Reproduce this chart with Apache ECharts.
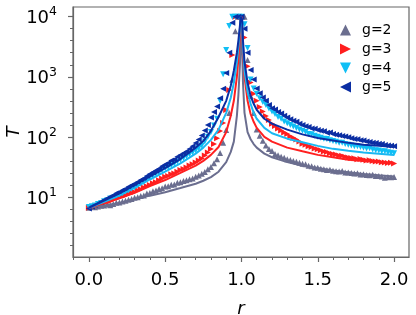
<!DOCTYPE html>
<html><head><meta charset="utf-8">
<script src="https://cdn.jsdelivr.net/npm/echarts@6/dist/echarts.min.js"></script>
<style>html,body{margin:0;padding:0;background:#fff}#c{width:416px;height:315px}</style>
</head><body><div id="c"></div>
<script>
// sampled r positions of the simulation points
const rPts = [0,0.02,0.04,0.06,0.08,0.1,0.12,0.14,0.16,0.18,0.2,0.22,0.24,0.26,0.28,0.3,0.32,0.34,0.36,0.38,
0.4,0.42,0.44,0.46,0.48,0.5,0.52,0.54,0.56,0.58,0.6,0.62,0.64,0.66,0.68,0.7,0.72,0.74,0.76,0.78,
0.8,0.82,0.84,0.86,0.88,0.9,0.92,0.94,0.96,0.98,1.0,1.02,1.04,1.06,1.08,1.1,1.12,1.14,1.16,1.18,
1.2,1.22,1.24,1.26,1.28,1.3,1.32,1.34,1.36,1.38,1.4,1.42,1.44,1.46,1.48,1.5,1.52,1.54,1.56,1.58,
1.6,1.62,1.64,1.66,1.68,1.7,1.72,1.74,1.76,1.78,1.8,1.82,1.84,1.86,1.88,1.9,1.92,1.94,1.96,1.98,2.0];

const T_g2 = [6.6,6.8,6.7,6.9,7.1, 7.2,7.5,7.3,7.6,8.0, 8.1,8.4,8.6,9.0,9.2, 9.7,9.9,10.4,10.6,11.4,
11.6,12.4,12.8,13.6,14.0, 14.9,15.0,16.0,16.1,17.2, 17.6,18.4,19.0,19.7,20.3, 21.6,22.8,24.2,26.0,29.0,
31.5,36.5,42.5,54,80, 130,250,890,5700,10000, 10000,10000,1900,480,250, 132,104,86,72,63,
58,52,49.5,46.5,45, 42.5,41,39.5,38.5,37, 35.5,35,33,32.5,31, 30.5,29.5,29,28,28.2,
27.3,26.8,26.5,26.9,25.6, 25.5,25,24.6,24.8,23.7, 23.8,23.2,22.9,23.3,22.4, 22.2,21.9,20.8,21.5,21.2, 21.5];

const T_g3 = [6.6,6.7,7.0,7.2,7.5, 7.9,8.3,8.5,9.0,9.4, 9.8,10.3,10.6,11.3,11.7, 12.1,12.9,13.4,14.3,15.0,
15.8,16.9,17.6,19.0,20.2, 21.6,22.4,23.8,24.6,26.2, 28.0,29.3,31.0,33.4,35.0, 37.5,40.5,43.8,49,55,
63,76,95,125,170, 280,600,2300,10000,10000, 10000,4500,1500,800,520, 400,315,265,222,190,
165,152,138,128,118, 112,102,97,90,84, 77,74,70,68,64, 62,60,57,56,53.5,
52,51,49,48.5,46.5, 45.5,44.5,44,42.5,42.8, 41.5,40.5,40.8,39.5,38.8, 38.9,37.8,37.5,36.8,37.2, 36];

const T_g4 = [6.8,7.0,7.2,7.6,7.9, 8.5,8.8,9.4,9.7,10.4, 11.0,11.5,12.4,12.9,13.8, 14.5,15.6,16.8,17.7,19.5,
21.3,22.6,24.2,25.5,28.0, 30.0,31.5,33.8,35.5,39.0, 41.5,44.5,47.5,51.5,55, 59,65,72,84,100,
120,155,200,400,1100, 2800,7000,10000,10000,10000, 10000,7500,3000,900,640, 520,440,380,340,295,
265,240,215,200,180, 168,158,148,140,132, 126,120,112,110,104, 100,97,93,92,88,
85,83,80,79.5,76, 74,72,70,70,67.5, 66,64,64.5,61.5,60, 59,57.5,57.5,55.5,54.5, 53.5];

const T_g5 = [6.4,6.9,7.3,7.7,8.3, 8.9,9.4,10.1,10.6,11.5, 12.0,12.9,13.6,14.8,15.6, 16.6,17.7,19.2,20.2,22.4,
24.0,25.8,27.6,29.5,32.4, 34.7,36.8,40.5,42.0,46.5, 50,53.5,57,63,70, 79,90,105,128,158,
210,260,320,440,630, 1150,2500,7900,10000,10000, 10000,6300,2500,1300,900, 640,530,450,400,340,
300,285,260,245,225, 210,196,185,178,165, 158,150,146,138,136, 130,126,124,117,118,
112,108,106,103,101, 98,95,92,91,88, 87,84,82,80,79, 77,76,73,72,71, 70];

// theory curves
const rFit = [0,0.1,0.2,0.3,0.4,0.5,0.6,0.7,0.75,0.8,0.85,0.9,0.93,0.95,0.97,0.98,0.99,0.995,1.0,
1.005,1.01,1.02,1.04,1.06,1.08,1.1,1.15,1.2,1.3,1.4,1.5,1.6,1.7,1.8,1.9,2.0];
const fit_g2 = [6.6,7.2,7.9,9.1,10.5,12.0,14.1,16.6,18.6,21.4,26.3,38.0,56.2,83.2,224,501,1585,3981,10000,
2512,794,251,120,91.2,75.9,66.1,52.5,45.7,38.0,33.1,30.2,27.5,25.7,24.0,22.9,21.9];
const fit_g3 = [6.6,7.9,9.5,11.7,15.1,19.1,25.1,33.1,39.8,50.1,67.6,120,224,398,1000,1995,5012,8913,10000,
6310,2512,1000,398,240,178,141,100,83.2,66.1,57.5,50.1,45.7,41.7,39.8,38.0,36.3];
const fit_g4 = [6.6,8.3,10.5,14.1,19.5,26.3,36.3,52.5,66.1,89.1,132,251,447,794,1778,3162,6310,10000,10000,
7079,3162,1259,562,355,251,200,141,115,93.3,81.3,70.8,63.1,58.9,55.0,52.5,50.1];
const fit_g5 = [6.6,8.7,11.5,15.8,21.9,30.2,42.7,66.1,85.1,126,214,398,708,1259,2512,3981,7079,10000,10000,
8913,3981,1778,794,479,355,282,200,166,132,110,95.5,87.1,79.4,74.1,70.8,67.6];

const seriesNames = ['g=2','g=3','g=4','g=5'];
const colors = ['#6b6e8f','#ff1e1e','#10bff5','#0b2ea3'];
const lineColors = ['#6b6e8f','#ff2020','#1ab8f2','#0b2ea3'];
const symbols = ['triangle','path://M0,0L10,5L0,10Z','path://M0,0L10,0L5,10Z','path://M10,0L0,5L10,10Z'];
const xTicks = [0,0.5,1,1.5,2];
const yTicks = [10,100,1000,10000];
const yDecades = [1,2,3,4];   // exponents of the labelled decades (tick helper axis)

const ptsData = [T_g2,T_g3,T_g4,T_g5];
const fitData = [fit_g2,fit_g3,fit_g4,fit_g5];
const FONT = 'DejaVu Sans';
const axisGray = '#666';
const yMin = 1, yMax = 14500;

const series = [];
ptsData.forEach((arr, k) => {
  series.push({
    type:'scatter', name: seriesNames[k], symbol: symbols[k], symbolSize: 6, yAxisIndex:0,
    data: rPts.map((r,i)=>[r,arr[i]]),
    itemStyle:{color: colors[k], opacity:1}, z: 2, silent:true
  });
});
fitData.forEach((arr, k) => {
  series.push({
    type:'line', yAxisIndex:0, data: rFit.map((r,i)=>[r,arr[i]]), symbol:'none', showSymbol:false,
    lineStyle:{width:2, color: lineColors[k]}, z: 3, silent:true
  });
});

const chart = echarts.init(document.getElementById('c'), null, {renderer:'canvas'});
chart.setOption({
  animation:false,
  backgroundColor:'#fff',
  grid:{left:73, top:7, width:336, height:250, show:true, borderColor:axisGray, borderWidth:1.2,
        backgroundColor:'transparent', containLabel:false, outerBoundsMode:'none'},
  legend:{
    data: seriesNames.map((n,k)=>({name:n, icon: symbols[k]})),
    orient:'vertical', left:335, top:18, itemWidth:11, itemHeight:11, itemGap:5,
    textStyle:{fontFamily:FONT, fontSize:14, color:'#000', padding:[0,0,0,6]}
  },
  xAxis:{
    type:'value', min:-0.104, max:2.098, minInterval:0.5, maxInterval:0.5,
    axisLine:{show:true, onZero:false, lineStyle:{color:axisGray, width:1.2}},
    axisTick:{show:true, length:5, customValues:xTicks, lineStyle:{color:axisGray, width:1.2}},
    minorTick:{show:true, splitNumber:5, length:3, lineStyle:{color:axisGray, width:1}},
    splitLine:{show:false}, minorSplitLine:{show:false},
    axisLabel:{customValues:xTicks, margin:14, fontFamily:FONT, fontSize:18, color:'#000',
      formatter: v => (Math.abs(v*2 - Math.round(v*2))<1e-6 ? v.toFixed(1) : '')},
    name:'r', nameLocation:'middle', nameGap:43, nameMoveOverlap:false,
    nameTextStyle:{fontFamily:FONT, fontSize:18, fontStyle:'italic', color:'#000'}
  },
  yAxis:[{
    type:'log', logBase:10, min:yMin, max:yMax, splitNumber:4, position:'left',
    axisLine:{show:true, onZero:false, lineStyle:{color:axisGray, width:1.2}},
    axisTick:{show:false},
    minorTick:{show:false},
    splitLine:{show:false}, minorSplitLine:{show:false},
    axisLabel:{customValues:yTicks, margin:16, fontFamily:FONT, color:'#000',
      formatter: v => { const e = Math.log10(v); if (Math.abs(e-Math.round(e))>1e-6 || v < 5) return ''; return '{b|10}{s|' + Math.round(e) + '}'; },
      rich:{ b:{fontFamily:FONT, fontSize:18, color:'#000', padding:[4,0,0,0]}, s:{fontFamily:FONT, fontSize:12.5, color:'#000', padding:[0,0,9,0]} }
    },
    name:'T', nameLocation:'middle', nameGap:50, nameRotate:90, nameMoveOverlap:false,
    nameTextStyle:{fontFamily:FONT, fontSize:18, fontStyle:'italic', color:'#000'}
  },{
    // decade-exponent helper axis: only draws the tick marks of the log axis
    type:'value', min:Math.log10(yMin), max:Math.log10(yMax), interval:1, position:'left', offset:0,
    axisLine:{show:false, onZero:false},
    axisTick:{show:true, length:5, customValues:yDecades, lineStyle:{color:axisGray, width:1.2}},
    minorTick:{show:true, splitNumber:5, length:3, lineStyle:{color:axisGray, width:1}},
    splitLine:{show:false}, minorSplitLine:{show:false},
    axisLabel:{show:false}
  }],
  series: series
});
</script></body></html>
